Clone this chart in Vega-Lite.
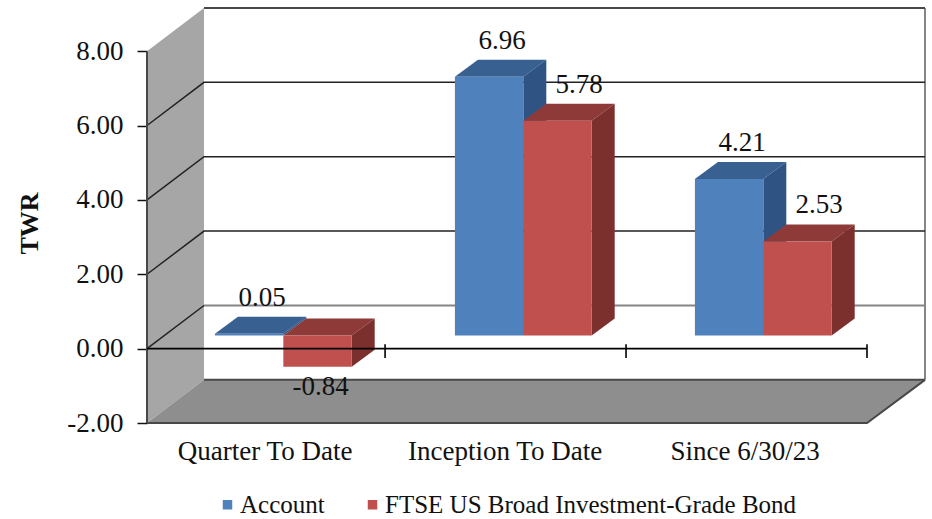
{
"$schema":"https://vega.github.io/schema/vega-lite/v6.json",
"width":778,"height":415,
"autosize":{"type":"none"},
"padding":{"left":147,"top":8,"right":7,"bottom":96},
"background":"white",
"config":{"view":{"stroke":null},"font":"Liberation Serif"},
"datasets":{
"bars":[
{"category":"Quarter To Date","series":"Account","value":0.05},
{"category":"Quarter To Date","series":"FTSE US Broad Investment-Grade Bond","value":-0.84},
{"category":"Inception To Date","series":"Account","value":6.96},
{"category":"Inception To Date","series":"FTSE US Broad Investment-Grade Bond","value":5.78},
{"category":"Since 6/30/23","series":"Account","value":4.21},
{"category":"Since 6/30/23","series":"FTSE US Broad Investment-Grade Bond","value":2.53}
],
"walls":[
{"wall":"left","corner":0,"px":0,"py":-2},{"wall":"left","corner":1,"px":0.2375,"py":-0.84},{"wall":"left","corner":2,"px":0.2375,"py":9.16},{"wall":"left","corner":3,"px":0,"py":8},
{"wall":"floor","corner":0,"px":0,"py":-2},{"wall":"floor","corner":1,"px":3,"py":-2},{"wall":"floor","corner":2,"px":3.2417,"py":-0.84},{"wall":"floor","corner":3,"px":0.2375,"py":-0.84}
],
"lines":[
{"kind":"grid","line":"g2","step":0,"px":0,"py":2},{"kind":"grid","line":"g2","step":1,"px":0.2375,"py":3.16},{"kind":"grid","line":"g2","step":2,"px":3.2417,"py":3.16},
{"kind":"grid","line":"g4","step":0,"px":0,"py":4},{"kind":"grid","line":"g4","step":1,"px":0.2375,"py":5.16},{"kind":"grid","line":"g4","step":2,"px":3.2417,"py":5.16},
{"kind":"grid","line":"g6","step":0,"px":0,"py":6},{"kind":"grid","line":"g6","step":1,"px":0.2375,"py":7.16},{"kind":"grid","line":"g6","step":2,"px":3.2417,"py":7.16},
{"kind":"grid","line":"g0","step":0,"px":0,"py":0},{"kind":"grid","line":"g0","step":1,"px":0.2375,"py":1.16},
{"kind":"soft","line":"s0","step":0,"px":0.2375,"py":1.16},{"kind":"soft","line":"s0","step":1,"px":3.2417,"py":1.16},
{"kind":"soft","line":"right","step":0,"px":3.2417,"py":-0.84},{"kind":"soft","line":"right","step":1,"px":3.2417,"py":9.16},
{"kind":"edge","line":"top","step":0,"px":0.2375,"py":9.16},{"kind":"edge","line":"top","step":1,"px":3.2417,"py":9.16},
{"kind":"edge","line":"back","step":0,"px":0.2375,"py":-0.84},{"kind":"edge","line":"back","step":1,"px":3.2417,"py":-0.84},
{"kind":"edge","line":"front","step":0,"px":0,"py":-2},{"kind":"edge","line":"front","step":1,"px":3,"py":-2},{"kind":"edge","line":"front","step":2,"px":3.2417,"py":-0.84},
{"kind":"edge","line":"yaxis","step":0,"px":0,"py":-2},{"kind":"edge","line":"yaxis","step":1,"px":0,"py":8},
{"kind":"axis","line":"xaxis","step":0,"px":0,"py":0},{"kind":"axis","line":"xaxis","step":1,"px":3,"py":0},
{"kind":"axis","line":"t1","step":0,"px":0.992,"py":0.12},{"kind":"axis","line":"t1","step":1,"px":0.992,"py":-0.25},
{"kind":"axis","line":"t2","step":0,"px":1.996,"py":0.12},{"kind":"axis","line":"t2","step":1,"px":1.996,"py":-0.25},
{"kind":"axis","line":"t3","step":0,"px":3,"py":0.12},{"kind":"axis","line":"t3","step":1,"px":3,"py":-0.25}
]
},
"encoding":{
"x":{"field":"px","type":"quantitative","scale":{"domain":[0,3.2417],"nice":false,"zero":false},
"axis":{"title":null,"grid":false,"domain":false,"ticks":false,"values":[0.49,1.49,2.49],"labelExpr":"['Quarter To Date','Inception To Date','Since 6/30/23'][floor(datum.value)]","labelFontSize":27,"labelColor":"#111","labelPadding":15,"labelFont":"Liberation Serif","labelFlush":false,"labelOverlap":false,"labelLimit":0}},
"y":{"field":"py","type":"quantitative","scale":{"domain":[-2,9.16],"nice":false,"zero":false},
"axis":{"title":"TWR","titleFontSize":26,"titleFontWeight":"bold","titleColor":"#111","titleFont":"Liberation Serif","titlePadding":24,"titleY":215,"grid":false,"domain":false,"values":[-2,0,2,4,6,8],"format":".2f","labelExpr":"replace(datum.label,'−','-')","tickSize":10,"tickColor":"#111","tickWidth":1.5,"labelFontSize":27,"labelColor":"#111","labelPadding":14,"labelFont":"Liberation Serif"}}
},
"layer":[
{"data":{"name":"walls"},"transform":[{"filter":"datum.wall==='left'"}],"mark":{"type":"line","fill":"#a6a6a6","strokeWidth":0},"encoding":{"order":{"field":"corner"}}},
{"data":{"name":"walls"},"transform":[{"filter":"datum.wall==='floor'"}],"mark":{"type":"line","fill":"#8e8e8e","strokeWidth":0},"encoding":{"order":{"field":"corner"}}},
{"data":{"name":"lines"},"transform":[{"filter":"datum.kind==='soft'"}],"mark":{"type":"line","stroke":"#868686","strokeWidth":2},"encoding":{"detail":{"field":"line"},"order":{"field":"step"}}},
{"data":{"name":"lines"},"transform":[{"filter":"datum.kind==='grid'"}],"mark":{"type":"line","stroke":"#222222","strokeWidth":1.5},"encoding":{"detail":{"field":"line"},"order":{"field":"step"}}},
{"data":{"name":"lines"},"transform":[{"filter":"datum.kind==='edge'"}],"mark":{"type":"line","stroke":"#484848","strokeWidth":2},"encoding":{"detail":{"field":"line"},"order":{"field":"step"}}},
{"data":{"name":"bars"},
"transform":[
{"filter":"datum.series==='Account'"},
{"calculate":"indexof(['Quarter To Date','Inception To Date','Since 6/30/23'],datum.category)","as":"i"},
{"calculate":"datum.i+0.283+0.285","as":"x1"},
{"calculate":"0.35+max(datum.value,0)","as":"vt"},
{"calculate":"0.35+min(datum.value,0)","as":"vb"},
{"calculate":"['top','side']","as":"face"},
{"flatten":["face"]},
{"calculate":"[0,1,2,3]","as":"corner"},
{"flatten":["corner"]},
{"calculate":"datum.face==='top'?[datum.x1-0.285,datum.x1,datum.x1+0.0958,datum.x1-0.1892][datum.corner]:[datum.x1,datum.x1+0.0958,datum.x1+0.0958,datum.x1][datum.corner]","as":"px"},
{"calculate":"datum.face==='top'?[datum.vt,datum.vt,datum.vt+0.457,datum.vt+0.457][datum.corner]:[datum.vt,datum.vt+0.457,datum.vb+0.457,datum.vb][datum.corner]","as":"py"},
{"calculate":"datum.series+' '+datum.face","as":"shade"},
{"calculate":"datum.category+' '+datum.face","as":"poly"}
],
"mark":{"type":"line","strokeWidth":0},
"encoding":{"fill":{"field":"shade","scale":{"domain":["Account top","Account side","FTSE US Broad Investment-Grade Bond top","FTSE US Broad Investment-Grade Bond side"],"range":["#386192","#2f5483","#8e3a38","#7b302e"]},"legend":null},"detail":{"field":"poly"},"order":{"field":"corner"}}
},
{"data":{"name":"bars"},
"transform":[
{"filter":"datum.series==='Account'"},
{"calculate":"indexof(['Quarter To Date','Inception To Date','Since 6/30/23'],datum.category)","as":"i"},
{"calculate":"datum.i+0.283","as":"px"},
{"calculate":"datum.px+0.285","as":"px2"},
{"calculate":"0.35+max(datum.value,0)","as":"py"},
{"calculate":"0.35+min(datum.value,0)","as":"py2"}
],
"mark":{"type":"rect"},
"encoding":{"x2":{"field":"px2"},"y2":{"field":"py2"},"color":{"field":"series","type":"nominal","scale":{"domain":["Account","FTSE US Broad Investment-Grade Bond"],"range":["#4f81bd","#c0504d"]},
"legend":{"title":null,"orient":"none","legendX":68,"legendY":484,"direction":"horizontal","symbolType":"square","symbolSize":90,"symbolStrokeWidth":0,"labelFontSize":25,"labelColor":"#111","labelFont":"Liberation Serif","labelLimit":0,"columnPadding":35,"labelOffset":0}}}
},
{"data":{"name":"bars"},
"transform":[
{"filter":"datum.series!=='Account'"},
{"calculate":"indexof(['Quarter To Date','Inception To Date','Since 6/30/23'],datum.category)","as":"i"},
{"calculate":"datum.i+0.568+0.285","as":"x1"},
{"calculate":"0.35+max(datum.value,0)","as":"vt"},
{"calculate":"0.35+min(datum.value,0)","as":"vb"},
{"calculate":"['top','side']","as":"face"},
{"flatten":["face"]},
{"calculate":"[0,1,2,3]","as":"corner"},
{"flatten":["corner"]},
{"calculate":"datum.face==='top'?[datum.x1-0.285,datum.x1,datum.x1+0.0958,datum.x1-0.1892][datum.corner]:[datum.x1,datum.x1+0.0958,datum.x1+0.0958,datum.x1][datum.corner]","as":"px"},
{"calculate":"datum.face==='top'?[datum.vt,datum.vt,datum.vt+0.457,datum.vt+0.457][datum.corner]:[datum.vt,datum.vt+0.457,datum.vb+0.457,datum.vb][datum.corner]","as":"py"},
{"calculate":"datum.series+' '+datum.face","as":"shade"},
{"calculate":"datum.category+' '+datum.face","as":"poly"}
],
"mark":{"type":"line","strokeWidth":0},
"encoding":{"fill":{"field":"shade","scale":{"domain":["Account top","Account side","FTSE US Broad Investment-Grade Bond top","FTSE US Broad Investment-Grade Bond side"],"range":["#386192","#2f5483","#8e3a38","#7b302e"]},"legend":null},"detail":{"field":"poly"},"order":{"field":"corner"}}
},
{"data":{"name":"bars"},
"transform":[
{"filter":"datum.series!=='Account'"},
{"calculate":"indexof(['Quarter To Date','Inception To Date','Since 6/30/23'],datum.category)","as":"i"},
{"calculate":"datum.i+0.568","as":"px"},
{"calculate":"datum.px+0.285","as":"px2"},
{"calculate":"0.35+max(datum.value,0)","as":"py"},
{"calculate":"0.35+min(datum.value,0)","as":"py2"}
],
"mark":{"type":"rect"},
"encoding":{"x2":{"field":"px2"},"y2":{"field":"py2"},"color":{"field":"series","type":"nominal","scale":{"domain":["Account","FTSE US Broad Investment-Grade Bond"],"range":["#4f81bd","#c0504d"]}}}
},
{"data":{"name":"lines"},"transform":[{"filter":"datum.kind==='axis'"}],"mark":{"type":"line","stroke":"#000000","strokeWidth":1.6},"encoding":{"detail":{"field":"line"},"order":{"field":"step"}}},
{"data":{"name":"bars"},
"transform":[
{"calculate":"indexof(['Quarter To Date','Inception To Date','Since 6/30/23'],datum.category)","as":"i"},
{"calculate":"datum.series==='Account'?0:1","as":"s"},
{"calculate":"datum.i+0.4255+datum.s*0.285+(datum.value<0?0.0125:datum.s===1?0.09:0.054)","as":"px"},
{"calculate":"datum.value<0?0.35+datum.value-0.54:0.35+datum.value+0.97","as":"py"},
{"calculate":"format(datum.value,'.2f')","as":"label"},
{"calculate":"replace(datum.label,'−','-')","as":"label"}
],
"mark":{"type":"text","fontSize":27,"color":"#111","font":"Liberation Serif","baseline":"middle","align":"center"},
"encoding":{"text":{"field":"label","type":"nominal"}}
}
]
}
